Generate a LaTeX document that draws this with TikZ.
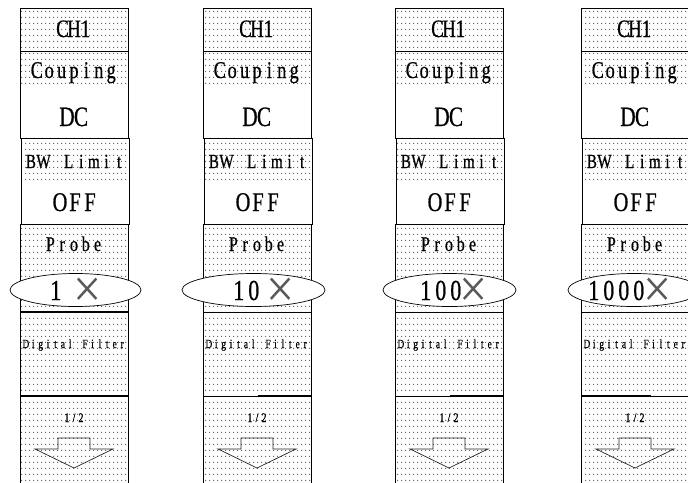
\documentclass[tikz,border=0pt]{standalone}
\usepackage{fontspec}
\setmainfont{Liberation Serif}
\newfontfamily\narrowserif[FakeStretch=0.76,FakeBold=0.6]{Liberation Serif}
\usetikzlibrary{patterns.meta}
\ExplSyntaxOn
\NewDocumentCommand\mono{mm}{\str_map_inline:nn{#2}{\makebox[#1][c]{##1}}}
\ExplSyntaxOff
\pgfdeclarepattern{
  name=menudots,
  type=uncolored,
  bottom left={\pgfpoint{0pt}{0pt}},
  top right={\pgfpoint{4pt}{6pt}},
  tile size={\pgfpoint{4pt}{6pt}},
  code={\pgfpathrectangle{\pgfpoint{1.5pt}{2.5pt}}{\pgfpoint{1pt}{1pt}}\pgfusepath{fill}}
}
\tikzset{
  dotfill/.style={pattern=menudots, pattern color=black!60},
  frame/.style={draw=black, line width=0.8pt},
  thickline/.style={draw=black, line width=2.4pt},
  probering/.style={fill=white, draw=black, line width=0.7pt},
  arrowline/.style={draw=black!85, line width=0.7pt},
  txt/.style={anchor=base, inner sep=0pt, text=black},
  head/.style={txt, font=\narrowserif\fontsize{21}{21}\selectfont},
  value/.style={txt, font=\narrowserif\fontsize{28}{28}\selectfont},
  tiny/.style={txt, font=\narrowserif\fontsize{12.5}{12.5}\selectfont},
  timesmark/.style={anchor=base, inner sep=0pt, font=\fontsize{50}{50}\selectfont, text=black!65}
}
% #1 left x, #2 id, #3 number, #4 number east x, #5 ellipse centre x,
% #6 ellipse x radius, #7/#8 thick line range, #9 centre of the times sign
\newcommand\drawpanel[9]{%
\begin{scope}[shift={(#1,0)}]
  \fill[dotfill] (0,8) rectangle (108,87);
  \fill[dotfill] (1,138) rectangle (109,180);
  \fill[dotfill] (0,224) rectangle (108,482);
  \draw[frame] (0,8) rectangle (108,51);
  \draw[frame] (0,51) rectangle (108,138);
  \draw[frame] (1,138) rectangle (109,224);
  \draw[frame] (0,224) rectangle (108,312);
  \draw[frame] (0,312) rectangle (108,396);
  \draw[frame] (0,490) |- (108,396) -- (108,490);
  \draw[thickline] (#7,396) -- (#8,396);
  \filldraw[probering] (#5,290) ellipse [x radius=#6, y radius=16.5];
  \node[head, font=\narrowserif\fontsize{25}{25}\selectfont] (ch-#2) at (54,37) {\mono{11.5pt}{CH1}};
  \node[head, font=\narrowserif\fontsize{24}{24}\selectfont] (coup-#2) at (54,78) {\mono{12.4pt}{Couping}};
  \node[value] (dc-#2) at (54,126) {\mono{14pt}{DC}};
  \node[head, font=\narrowserif\fontsize{20}{20}\selectfont] (bw-#2) at (55,168) {\mono{12.6pt}{BW Limit}};
  \node[value, font=\narrowserif\fontsize{27}{27}\selectfont] (off-#2) at (55,211) {\mono{15pt}{OFF}};
  \node[head] (probe-#2) at (54,251) {\mono{11.8pt}{Probe}};
  \node[value, font=\narrowserif\fontsize{29}{29}\selectfont, anchor=base east] (num-#2) at (#4,300) {\mono{15pt}{#3}};
  \node[timesmark] (x-#2) at (#9,307) {\scalebox{1}[1.1]{×}};
  \node[tiny] (filt-#2) at (54,348) {\mono{7.4pt}{Digital Filter}};
  \node[tiny, font=\narrowserif\fontsize{13}{13}\selectfont] (page-#2) at (54,422) {\mono{7pt}{1/2}};
  \draw[arrowline] (15,449) -- (38,449) -- (38,438) -- (70,438) -- (70,449)
        -- (93,449) -- (54,468) -- cycle;
\end{scope}}
\begin{document}
\begin{tikzpicture}[x=1pt,y=-1pt]
\useasboundingbox (0,0) rectangle (688,482);
\fill[white] (0,0) rectangle (688,482);
\drawpanel{20}{a}{1}{43.5}{55.5}{65.5}{0}{108}{67.5}
\drawpanel{203}{b}{10}{58.5}{50.5}{71.5}{55}{108}{77.5}
\drawpanel{395}{c}{100}{68.5}{54.5}{66.5}{55}{108}{79}
\drawpanel{581}{d}{1000}{65.5}{53}{66}{0}{70}{77}
\draw[thickline] (20,312) -- (128,312);
\end{tikzpicture}
\end{document}
